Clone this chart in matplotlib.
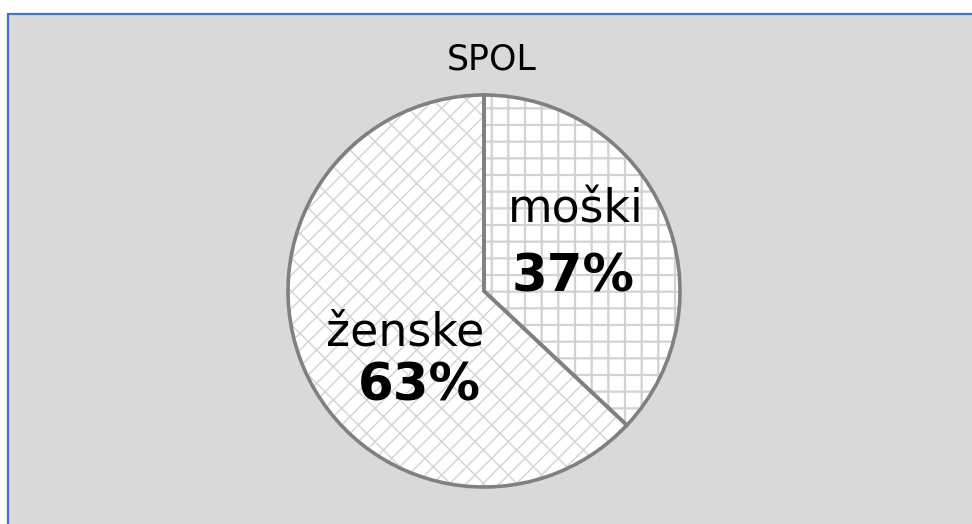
import matplotlib
matplotlib.use("Agg")
import matplotlib.pyplot as plt
from matplotlib.patches import Rectangle

# data
categories = ["moški", "ženske"]
shares = [37, 63]
hatches = ["+", "x/"]
title = "SPOL"

W, H, DPI = 972, 524, 100
plt.rcParams["font.family"] = ["DejaVu Sans"]

fig = plt.figure(figsize=(W / DPI, H / DPI), dpi=DPI, facecolor="white")

# gray chart area with blue outline (top/left visible)
fig.patches.append(Rectangle((8 / W, -0.02), 1.0, (H - 14) / H + 0.02,
                             transform=fig.transFigure, facecolor="#D9D9D9",
                             edgecolor="#4472C4", linewidth=1.6, zorder=-5))

cx, cy, r = 484, 291, 196
ax = fig.add_axes([(cx - r) / W, (H - cy - r) / H, 2 * r / W, 2 * r / H])
ax.set_axis_off()
ax.set_zorder(1)

# hatched fill (each slice its own hatch weight), then outline on top
hatch_lw = [1.6, 1.1]
hatch_col = ["#D2D2D2", "#D6D6D6"]
for i, (h, lw, col) in enumerate(zip(hatches, hatch_lw, hatch_col)):
    plt.rcParams["hatch.linewidth"] = lw
    wedges, _ = ax.pie(shares, startangle=90, counterclock=False, radius=1.0,
                       colors=["white", "white"],
                       wedgeprops=dict(edgecolor=col, linewidth=0))
    for j, w in enumerate(wedges):
        if j == i:
            w.set_hatch(h)
        else:
            w.set_visible(False)
ax.pie(shares, startangle=90, counterclock=False, radius=1.0,
       colors=["none", "none"],
       wedgeprops=dict(edgecolor="#808080", linewidth=2.6, fill=False))
ax.set_xlim(-1.0, 1.0)
ax.set_ylim(-1.0, 1.0)
ax.set_aspect("equal")

# labels
label_pos = [(0.47, 0.35, 0.455, 0.0), (-0.40, -0.28, -0.33, -0.56)]
for name, val, (nx, ny, px, py) in zip(categories, shares, label_pos):
    ax.text(nx, ny, name, ha="center", va="baseline", fontsize=33, color="black")
    ax.text(px, py, f"{val}%", ha="center", va="baseline", fontsize=37,
            fontweight="bold", color="black")

fig.text(492 / W, 1 - 60 / H, title, ha="center", va="center", fontsize=25,
         color="black")

fig.savefig("out.png", dpi=DPI, facecolor="white")
